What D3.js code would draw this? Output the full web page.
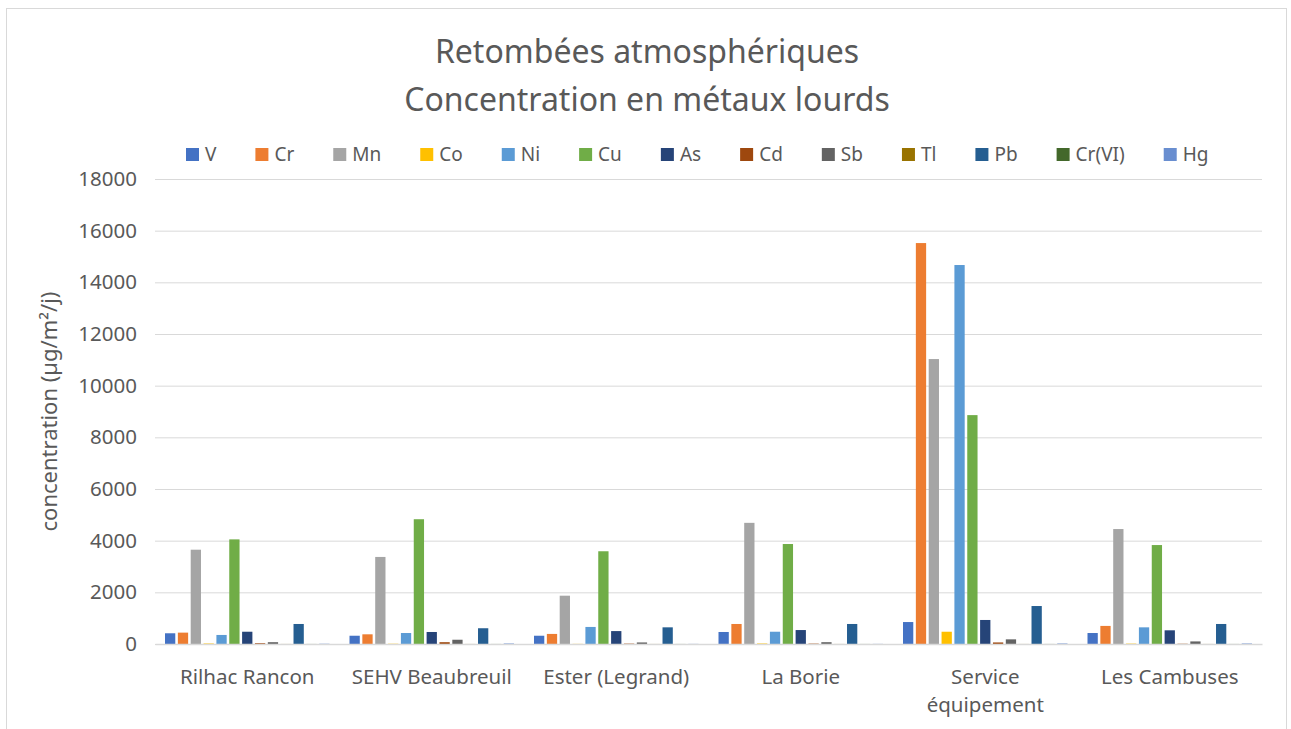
<!DOCTYPE html>
<html>
<head>
<meta charset="utf-8">
<script src="https://cdn.jsdelivr.net/npm/d3@7"></script>
<style>
  body { margin: 0; background: #fff; }
  text { font-family: "Noto Sans", "Open Sans", sans-serif; fill: #595959; }
</style>
</head>
<body>
<div id="chart-area"></div>
<script>
// sites (categories)
let sites = ["Rilhac Rancon", "SEHV Beaubreuil", "Ester (Legrand)", "La Borie", "Service équipement", "Les Cambuses"];

// metals (series)
let metals = ["V", "Cr", "Mn", "Co", "Ni", "Cu", "As", "Cd", "Sb", "Tl", "Pb", "Cr(VI)", "Hg"];

// values per metal, one per site (µg/m²/j)
let V     = [415, 320, 320, 465, 850, 425];
let Cr    = [440, 375, 390, 775, 15520, 700];
let Mn    = [3650, 3370, 1870, 4690, 11030, 4450];
let Co    = [20, 10, 5, 20, 475, 15];
let Ni    = [350, 425, 660, 475, 14670, 645];
let Cu    = [4050, 4830, 3590, 3870, 8860, 3830];
let As    = [475, 465, 500, 540, 930, 530];
let Cd    = [30, 70, 15, 15, 60, 10];
let Sb    = [70, 165, 60, 70, 180, 100];
let Tl    = [2, 2, 2, 2, 2, 2];
let Pb    = [775, 610, 645, 775, 1470, 775];
let CrVI  = [2, 2, 2, 2, 2, 2];
let Hg    = [10, 20, 5, 5, 20, 20];

let yTicks = [0, 2000, 4000, 6000, 8000, 10000, 12000, 14000, 16000, 18000];

let colors = ["#4472C4", "#ED7D31", "#A5A5A5", "#FFC000", "#5B9BD5", "#70AD47",
              "#264478", "#9E480E", "#636363", "#997300", "#255E91", "#43682B", "#698ED0"];

let seriesValues = [V, Cr, Mn, Co, Ni, Cu, As, Cd, Sb, Tl, Pb, CrVI, Hg];

let data = [];
sites.forEach(function(s, i) {
  metals.forEach(function(m, j) {
    data.push({site: s, metal: m, value: seriesValues[j][i]});
  });
});

let W = 1291, H = 729;
let margin = {top: 179, right: 29, bottom: 85, left: 155},
  width = W - margin.left - margin.right,
  height = H - margin.top - margin.bottom;

let root = d3.select("#chart-area")
  .append("svg")
  .attr("width", W)
  .attr("height", H);

// chart frame
root.append("rect")
  .attr("x", 6.5).attr("y", 8.5)
  .attr("width", 1280).attr("height", 740)
  .attr("fill", "none")
  .attr("stroke", "#d9d9d9");

// title
root.append("text")
  .attr("x", 647).attr("y", 63)
  .attr("text-anchor", "middle")
  .style("font-size", "32px")
  .text("Retombées atmosphériques");
root.append("text")
  .attr("x", 647).attr("y", 111)
  .attr("text-anchor", "middle")
  .style("font-size", "32px")
  .text("Concentration en métaux lourds");

let svg = root.append("g")
  .attr("transform", "translate(" + margin.left + "," + margin.top + ")");

let x0 = d3.scaleBand().domain(sites).range([0, width]).paddingInner(0).paddingOuter(0);
let x1 = d3.scaleBand().domain(metals).range([10, x0.bandwidth() - 10]).paddingInner(0.2);
let y = d3.scaleLinear().domain([0, 18000]).range([height, 0]);
let color = d3.scaleOrdinal().domain(metals).range(colors);

// gridlines
let yAxis = d3.axisLeft(y).tickValues(yTicks).tickSize(-width).tickFormat(d3.format("d"));
let yAxisGroup = svg.append("g").attr("class", "y-axis").call(yAxis);
yAxisGroup.select(".domain").remove();
yAxisGroup.selectAll(".tick line").attr("stroke", "#d9d9d9");
yAxisGroup.selectAll(".tick text")
  .attr("x", -18)
  .style("font-size", "20.5px")
  .attr("fill", "#595959");

// bars
svg.selectAll(".bar")
  .data(data)
  .enter()
  .append("rect")
  .attr("class", "bar")
  .attr("x", function(d) { return x0(d.site) + x1(d.metal); })
  .attr("y", function(d) { return y(d.value); })
  .attr("width", x1.bandwidth())
  .attr("height", function(d) { return height - y(d.value); })
  .attr("fill", function(d) { return color(d.metal); });

// x axis
let xAxis = d3.axisBottom(x0).tickSize(0).tickPadding(25);
let xAxisGroup = svg.append("g")
  .attr("class", "x-axis")
  .attr("transform", "translate(0," + height + ")")
  .call(xAxis);
xAxisGroup.select(".domain").attr("stroke", "#d9d9d9").attr("stroke-width", 1.5);
xAxisGroup.selectAll(".tick text")
  .style("font-size", "20.5px")
  .attr("fill", "#595959")
  .each(function(d) {
    let t = d3.select(this);
    if (this.getComputedTextLength() > 175) {
      let words = d.split(" ");
      t.text(null);
      words.forEach(function(w, i) {
        t.append("tspan").attr("x", 0).attr("dy", i == 0 ? "0.71em" : "1.4em").text(w);
      });
      t.attr("dy", null);
    }
  });

// y axis title
root.append("text")
  .attr("transform", "translate(57," + (margin.top + height / 2) + ") rotate(-90)")
  .attr("text-anchor", "middle")
  .style("font-size", "22px")
  .text("concentration (µg/m²/j)");

// legend
let legend = root.append("g").attr("class", "legend");
let lx = 186;
metals.forEach(function(m, i) {
  let item = legend.append("g").attr("transform", "translate(" + lx + ",148)");
  item.append("rect").attr("width", 13).attr("height", 13).attr("fill", colors[i]);
  let t = item.append("text")
    .attr("x", 19).attr("y", 13)
    .style("font-size", "19px")
    .text(m);
  lx += 19 + t.node().getComputedTextLength() + 39;
});
</script>
</body>
</html>
